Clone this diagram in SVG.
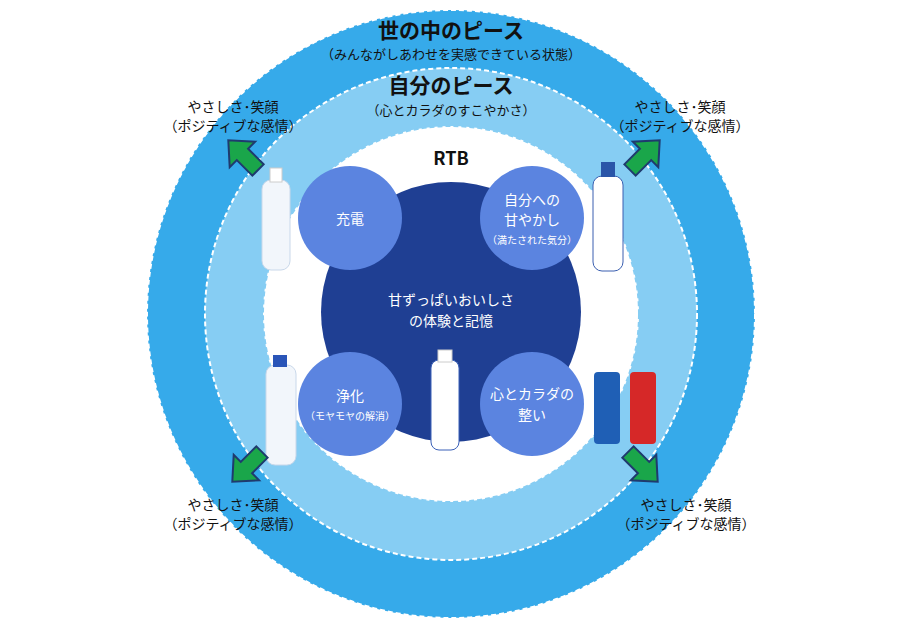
<svg xmlns="http://www.w3.org/2000/svg" width="900" height="620" viewBox="0 0 900 620">
<style>
text{font-family:"Noto Sans CJK JP","Liberation Sans",sans-serif;text-anchor:middle}
.dk{fill:#111}
.wh{fill:#fff}
.arr{fill:#1aa64a;stroke:#1f3a6e;stroke-width:2}
.bt{fill:#f2f6fb;stroke:#c9d8ea;stroke-width:1}
</style>
<defs>
<path id="ar" d="M0,-8 L22,-8 L22,-18 L42,0 L22,18 L22,8 L0,8 Z"/>
</defs>
<rect width="900" height="620" fill="#fff"/>
<g id="outer"><circle cx="451" cy="314" r="304" fill="#36aaea" stroke="#fff" stroke-width="2" stroke-dasharray="5 3"/></g>
<g id="middle"><circle cx="451" cy="314" r="246" fill="#86cdf3" stroke="#fff" stroke-width="2" stroke-dasharray="5 3"/></g>
<g id="inner"><circle cx="451" cy="314" r="188" fill="#fff" stroke="#86cdf3" stroke-width="2" stroke-dasharray="5 3"/></g>
<g id="core"><circle cx="451" cy="312" r="130" fill="#1f3f93"/>
<text x="451" y="305" class="wh" font-size="14">甘ずっぱいおいしさ</text>
<text x="451" y="326" class="wh" font-size="14">の体験と記憶</text></g>
<text x="451" y="165" class="dk" font-size="18" font-weight="bold" font-family="Liberation Sans">RTB</text>
<g id="title1"><text x="451" y="38" class="dk" font-size="21" font-weight="bold">世の中のピース</text>
<text x="451" y="59" class="dk" font-size="13">（みんながしあわせを実感できている状態）</text></g>
<g id="title2"><text x="451" y="93" class="dk" font-size="21" font-weight="bold">自分のピース</text>
<text x="451" y="115" class="dk" font-size="13">（心とカラダのすこやかさ）</text></g>
<g id="c1"><circle cx="350" cy="218" r="52" fill="#5b84e0"/><text x="350" y="224" class="wh" font-size="14">充電</text></g>
<g id="c2"><circle cx="532" cy="218" r="52" fill="#5b84e0"/><text x="532" y="205" class="wh" font-size="14">自分への</text><text x="532" y="225" class="wh" font-size="14">甘やかし</text><text x="532" y="244" class="wh" font-size="10">（満たされた気分）</text></g>
<g id="c3"><circle cx="350" cy="404" r="52" fill="#5b84e0"/><text x="350" y="401" class="wh" font-size="14">浄化</text><text x="350" y="420" class="wh" font-size="10">（モヤモヤの解消）</text></g>
<g id="c4"><circle cx="532" cy="404" r="52" fill="#5b84e0"/><text x="532" y="399" class="wh" font-size="14">心とカラダの</text><text x="532" y="420" class="wh" font-size="14">整い</text></g>
<g id="bottles">
<rect x="262" y="180" width="28" height="90" rx="9" class="bt"/><rect x="270" y="168" width="12" height="14" fill="#fff" stroke="#ccc"/>
<rect x="593" y="176" width="30" height="95" rx="9" fill="#fff" stroke="#3a5fb0"/><rect x="601" y="162" width="14" height="15" fill="#2a55a8"/>
<rect x="266" y="365" width="30" height="100" rx="9" class="bt"/><rect x="273" y="355" width="14" height="12" fill="#2a55b8"/>
<rect x="431" y="360" width="28" height="90" rx="8" fill="#fff" stroke="#3a60b8"/><rect x="438" y="350" width="14" height="12" fill="#fff" stroke="#ccc"/>
<rect x="594" y="372" width="26" height="72" rx="4" fill="#1f5fb5"/><rect x="630" y="372" width="26" height="72" rx="4" fill="#d62828"/>
</g>
<g id="connectors">
<use href="#ar" class="arr" transform="translate(258,170) rotate(-135)"/>
<use href="#ar" class="arr" transform="translate(630,170) rotate(-45)"/>
<use href="#ar" class="arr" transform="translate(262,452) rotate(135)"/>
<use href="#ar" class="arr" transform="translate(628,452) rotate(45)"/>
</g>
<g id="l1"><text x="233" y="112" class="dk" font-size="14">やさしさ･笑顔</text><text x="233" y="131" class="dk" font-size="14">（ポジティブな感情）</text></g>
<g id="l2"><text x="680" y="112" class="dk" font-size="14">やさしさ･笑顔</text><text x="680" y="131" class="dk" font-size="14">（ポジティブな感情）</text></g>
<g id="l3"><text x="233" y="510" class="dk" font-size="14">やさしさ･笑顔</text><text x="233" y="529" class="dk" font-size="14">（ポジティブな感情）</text></g>
<g id="l4"><text x="686" y="510" class="dk" font-size="14">やさしさ･笑顔</text><text x="686" y="529" class="dk" font-size="14">（ポジティブな感情）</text></g>
</svg>
